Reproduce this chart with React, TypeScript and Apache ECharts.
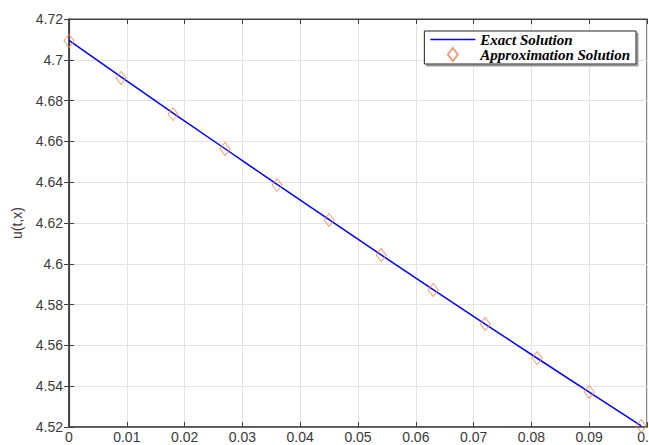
import React, { useEffect, useRef } from "react";
import * as echarts from "echarts";

const tValues = [0, 0.009, 0.018, 0.027, 0.036, 0.045, 0.054, 0.063, 0.072, 0.081, 0.09, 0.099];
const exactValues = [4.7095, 4.6916, 4.6739, 4.6564, 4.6389, 4.6216, 4.6044, 4.5873, 4.5704, 4.5537, 4.5371, 4.5206];
const approxValues = [4.7093, 4.6911, 4.6734, 4.6563, 4.6386, 4.6215, 4.6043, 4.5872, 4.5705, 4.5538, 4.5372, 4.5205];
const seriesNames = ["Exact Solution", "Approximation Solution"];
const yAxisName = "u(t,x)";

export default function App() {
  const ref = useRef<HTMLDivElement>(null);
  useEffect(() => {
    if (!ref.current) return;
    const chart = echarts.init(ref.current, null, { renderer: "svg" });
    const axisColor = "#404040";
    const labelStyle = { color: "#3a3a3a", fontFamily: "Liberation Sans, Arial", fontSize: 14 };
    chart.setOption({
      animation: false,
      backgroundColor: "#fff",
      grid: {
        left: 69, right: 2, top: 19, bottom: 18,
        show: true, borderColor: axisColor, borderWidth: 1.2,
        containLabel: false,
        outerBoundsMode: "none",
      },
      legend: {
        orient: "vertical",
        right: 13, top: 31,
        backgroundColor: "#fff",
        borderColor: "#222",
        borderWidth: 1,
        borderRadius: 0,
        padding: [1, 6, 2, 6],
        itemGap: 0,
        itemWidth: 45,
        itemHeight: 13,
        shadowColor: "#999",
        shadowOffsetX: 2,
        shadowOffsetY: 2,
        shadowBlur: 0,
        textStyle: {
          fontFamily: "Liberation Serif, Times New Roman, serif",
          fontStyle: "italic",
          fontWeight: "bold",
          fontSize: 15,
          lineHeight: 15,
          color: "#000",
        },
        data: [
          { name: seriesNames[0], icon: "path://M0,0 L45,0 L45,1.6 L0,1.6 Z", itemStyle: { color: "#0000ff" } },
          { name: seriesNames[1], icon: "path://M5,0 L10,6.5 L5,13 L0,6.5 Z" },
        ],
      },
      xAxis: [
        {
          type: "value", min: 0, max: 0.1, interval: 0.01,
          axisLine: { show: true, lineStyle: { color: axisColor, width: 1.5 } },
          axisTick: { show: true, inside: true, length: 5, lineStyle: { color: axisColor } },
          axisLabel: { ...labelStyle, margin: 3, showMaxLabel: true, formatter: (v: number) => String(+v.toFixed(2)) },
          splitLine: { show: true, lineStyle: { color: "#e3e3e3", width: 1 } },
        },
        {
          type: "value", min: 0, max: 0.1, interval: 0.01, position: "top",
          axisLine: { show: true, lineStyle: { color: axisColor, width: 1.2 } },
          axisTick: { show: true, inside: true, length: 5, lineStyle: { color: axisColor } },
          axisLabel: { show: false },
          splitLine: { show: false },
        },
      ],
      yAxis: [
        {
          type: "value", min: 4.52, max: 4.72, interval: 0.02,
          name: yAxisName,
          nameLocation: "middle",
          nameGap: 45,
          nameTextStyle: { ...labelStyle },
          axisLine: { show: true, lineStyle: { color: axisColor, width: 1.5 } },
          axisTick: { show: true, inside: true, length: 5, lineStyle: { color: axisColor } },
          axisLabel: { ...labelStyle, margin: 6, formatter: (v: number) => String(+v.toFixed(2)) },
          splitLine: { show: true, lineStyle: { color: "#e3e3e3", width: 1 } },
        },
        {
          type: "value", min: 4.52, max: 4.72, interval: 0.02, position: "right",
          axisLine: { show: true, lineStyle: { color: axisColor, width: 1.2 } },
          axisTick: { show: true, inside: true, length: 5, lineStyle: { color: axisColor } },
          axisLabel: { show: false },
          splitLine: { show: false },
        },
      ],
      series: [
        {
          name: seriesNames[0],
          type: "line",
          xAxisIndex: 0, yAxisIndex: 0,
          data: tValues.map((t, i) => [t, exactValues[i]]),
          symbol: "none",
          showSymbol: false,
          lineStyle: { color: "#0000ff", width: 1.5 },
          itemStyle: { color: "#0000ff" },
          z: 2,
        },
        {
          name: seriesNames[1],
          type: "scatter",
          xAxisIndex: 0, yAxisIndex: 0,
          data: tValues.map((t, i) => [t, approxValues[i]]),
          symbol: "diamond",
          symbolSize: [10, 13],
          itemStyle: { color: "transparent", borderColor: "#e8875c", borderWidth: 1 },
          z: 3,
        },
      ],
    });
    return () => chart.dispose();
  }, []);
  return (
    <div
      ref={ref}
      style={{ position: "fixed", left: 0, top: 0, width: 649, height: 445 }}
    />
  );
}
